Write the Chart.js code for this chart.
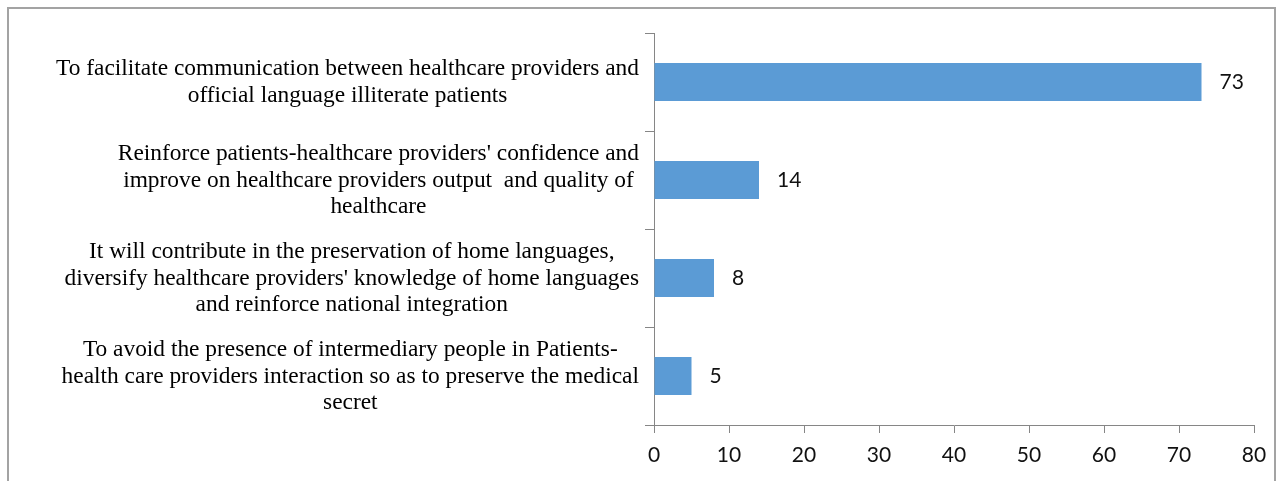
<!DOCTYPE html>
<html>
<head>
<meta charset="utf-8">
<script src="https://cdn.jsdelivr.net/npm/chart.js@4"></script>
<style>
  html, body { margin: 0; padding: 0; background: #fff; overflow: hidden; }
  #frame { position: absolute; left: 7px; top: 7px; width: 1265px; height: 500px; border: 2px solid #a3a3a3; }
  #wrap { position: absolute; left: 0; top: 0; width: 1277px; height: 481px; }
</style>
</head>
<body>
<div id="frame"></div>
<div id="wrap"><canvas id="reasons-chart" width="1277" height="481"></canvas></div>
<script>
// reasons, one array of lines per bar
const reasons = [
    ["To facilitate communication between healthcare providers and",
     "official language illiterate patients"],
    ["Reinforce patients-healthcare providers' confidence and",
     "improve on healthcare providers output  and quality of",
     "healthcare"],
    ["It will contribute in the preservation of home languages,",
     "diversify healthcare providers' knowledge of home languages",
     "and reinforce national integration"],
    ["To avoid the presence of intermediary people in Patients-",
     "health care providers interaction so as to preserve the medical",
     "secret"]
];
const percentages = [73, 14, 8, 5];
const axisMax = 80;
const axisStep = 10;

const axisColor = "#868686";
const lineGap = 26.5;

// multi-line labels: each block ends at the axis, lines centred inside the block
const reasonLabels = {
    id: "reasonLabels",
    afterDraw(chart) {
        let ctx = chart.ctx;
        let yScale = chart.scales.y;
        let right = yScale.right - 15;
        ctx.save();
        ctx.font = "23.4px 'Liberation Serif'";
        ctx.fillStyle = "#000";
        ctx.textAlign = "center";
        ctx.textBaseline = "alphabetic";
        reasons.forEach((lines, i) => {
            let widest = Math.max(...lines.map((l) => ctx.measureText(l).width));
            let cx = right - widest / 2;
            let cy = yScale.getPixelForTick(i);
            lines.forEach((line, j) => {
                ctx.fillText(line, cx, cy + (j - (lines.length - 1) / 2) * lineGap + 6.5);
            });
        });
        ctx.restore();
    }
};

// value next to the end of each bar
const valueLabels = {
    id: "valueLabels",
    afterDatasetsDraw(chart) {
        let ctx = chart.ctx;
        let meta = chart.getDatasetMeta(0);
        ctx.save();
        ctx.font = "21px Lato";
        ctx.fillStyle = "#111";
        ctx.textAlign = "left";
        ctx.textBaseline = "middle";
        meta.data.forEach((bar, i) => {
            ctx.fillText(String(percentages[i]), bar.x + 18, bar.y);
        });
        ctx.restore();
    }
};

let ctx = document.getElementById("reasons-chart").getContext("2d");

new Chart(ctx, {
    type: "bar",
    data: {
        labels: reasons,
        datasets: [
            {
                data: percentages,
                backgroundColor: "#5B9BD5",
                barPercentage: 0.39,
                categoryPercentage: 1.0,
            },
        ],
    },
    options: {
        indexAxis: "y",
        responsive: false,
        animation: false,
        layout: {
            padding: { left: 0, top: 33, right: 23, bottom: 0 },
        },
        plugins: {
            legend: { display: false },
            tooltip: { enabled: false },
        },
        scales: {
            x: {
                min: 0,
                max: axisMax,
                ticks: {
                    stepSize: axisStep,
                    color: "#111",
                    font: { family: "Lato", size: 21 },
                    padding: 10,
                },
                grid: {
                    drawOnChartArea: false,
                    color: axisColor,
                    tickLength: 8,
                },
                border: { color: axisColor },
                afterFit(scale) {
                    scale.height = 56;
                },
            },
            y: {
                ticks: { display: false },
                grid: {
                    offset: true,
                    drawOnChartArea: false,
                    color: axisColor,
                    tickLength: 9,
                },
                border: { color: axisColor },
                afterFit(scale) {
                    scale.width = 654;
                },
            },
        },
    },
    plugins: [reasonLabels, valueLabels],
});
</script>
</body>
</html>
